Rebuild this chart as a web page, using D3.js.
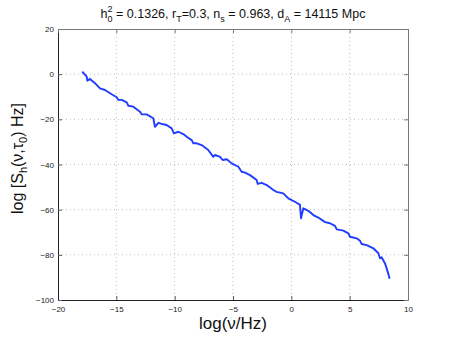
<!DOCTYPE html>
<html>
<head>
<meta charset="utf-8">
<script src="https://cdn.jsdelivr.net/npm/d3@7"></script>
<style>
  body { margin: 0; background: #fff; }
  svg { display: block; font-family: "Liberation Sans", Arial, sans-serif; }
</style>
</head>
<body>
<svg id="chart" width="451" height="338"></svg>
<script>
// values
const logNu = [-17.92, -17.54, -17.49, -17.26, -16.83, -16.4, -15.97, -15.4, -14.97, -14.83, -14.54, -14.11, -13.97, -13.54,
  -12.97, -12.83, -12.4, -11.83, -11.69, -11.4, -10.97, -10.69, -10.26, -10.06, -9.69, -9.26, -8.97, -8.54, -8.4, -8.11,
  -7.69, -7.12, -6.69, -6.54, -6.11, -5.89, -5.54, -5.11, -4.54, -4.26, -3.97, -3.54, -2.97, -2.88, -2.54, -2.11, -1.54,
  -1.26, -0.69, -0.26, 0.31, 0.74, 0.83, 1.03, 1.46, 1.89, 2.31, 2.89, 3.31, 3.74, 3.89, 4.46, 4.89, 5.03, 5.6, 5.89,
  6.03, 6.46, 7.03, 7.46, 7.6, 7.74, 8.03, 8.17, 8.3, 8.42];
const logS = [1.1, -1.1, -2.9, -2.1, -4.0, -6.3, -7.0, -8.9, -10.2, -11.4, -11.4, -12.5, -14.0, -14.4,
  -16.6, -17.8, -17.8, -19.5, -23.3, -21.6, -22.2, -22.5, -24.0, -26.2, -25.5, -26.5, -27.7, -29.2, -30.6, -30.6,
  -31.4, -33.6, -36.6, -35.8, -36.6, -38.0, -37.7, -39.5, -41.0, -43.2, -43.6, -44.7, -46.9, -48.6, -48.1, -49.1, -51.3,
  -52.1, -52.8, -55.0, -56.5, -57.9, -63.8, -59.4, -60.5, -62.4, -63.5, -65.5, -66.0, -67.2, -68.7, -69.3, -70.5, -72.0, -72.7, -73.8,
  -75.2, -75.7, -77.1, -79.3, -81.5, -81.1, -83.8, -86.0, -88.2, -90.6];
const xTicks = [-20, -15, -10, -5, 0, 5, 10];
const yTicks = [-100, -80, -60, -40, -20, 0, 20];

const svg = d3.select("#chart");
const margin = { top: 29, right: 43, bottom: 38, left: 58 };
const W = 451, H = 338;

const x = d3.scaleLinear().domain([-20, 10]).range([margin.left, W - margin.right]);
const y = d3.scaleLinear().domain([-100, 20]).range([H - margin.bottom, margin.top]);

// grid
svg.append("g").selectAll("line").data(xTicks.slice(1, -1)).join("line")
  .attr("x1", d => x(d)).attr("x2", d => x(d))
  .attr("y1", y(20)).attr("y2", y(-100))
  .attr("stroke", "#c0c0c0").attr("stroke-width", 1).attr("stroke-dasharray", "1,3");
svg.append("g").selectAll("line").data(yTicks.slice(1, -1)).join("line")
  .attr("y1", d => y(d)).attr("y2", d => y(d))
  .attr("x1", x(-20)).attr("x2", x(10))
  .attr("stroke", "#c0c0c0").attr("stroke-width", 1).attr("stroke-dasharray", "1,3");

// the curve
const line = d3.line().x((d, i) => x(logNu[i])).y(d => y(d));
svg.append("path")
  .datum(logS)
  .attr("d", line)
  .attr("fill", "none")
  .attr("stroke", "#1f3cff")
  .attr("stroke-width", 1.9)
  .attr("stroke-linejoin", "round");

// axes (ticks inside, on all four sides)
const tickFont = g => g.selectAll("text").style("font-size", "8px").attr("fill", "#222");
svg.append("g")
  .attr("transform", `translate(0,${y(-100)})`)
  .call(d3.axisBottom(x).tickValues(xTicks).tickSizeInner(-4).tickSizeOuter(0).tickPadding(6).tickFormat(d3.format("d")))
  .call(tickFont)
  .call(g => g.select(".domain").attr("stroke", "#222"))
  .call(g => g.selectAll(".tick line").attr("stroke", "#555"));
svg.append("g")
  .attr("transform", `translate(${x(-20)},0)`)
  .call(d3.axisLeft(y).tickValues(yTicks).tickSizeInner(-4).tickSizeOuter(0).tickPadding(4).tickFormat(d3.format("d")))
  .call(tickFont)
  .call(g => g.select(".domain").attr("stroke", "#222"))
  .call(g => g.selectAll(".tick line").attr("stroke", "#555"));
svg.append("g")
  .attr("transform", `translate(0,${y(20)})`)
  .call(d3.axisTop(x).tickValues(xTicks).tickSizeInner(-4).tickSizeOuter(0).tickFormat(""))
  .call(g => g.select(".domain").attr("stroke", "#777"))
  .call(g => g.selectAll(".tick line").attr("stroke", "#777"));
svg.append("g")
  .attr("transform", `translate(${x(10)},0)`)
  .call(d3.axisRight(y).tickValues(yTicks).tickSizeInner(-4).tickSizeOuter(0).tickFormat(""))
  .call(g => g.select(".domain").attr("stroke", "#777"))
  .call(g => g.selectAll(".tick line").attr("stroke", "#777"));

// title
const title = svg.append("text")
  .attr("x", (x(-20) + x(10)) / 2).attr("y", 18)
  .attr("text-anchor", "middle")
  .style("font-size", "12.5px").attr("fill", "#111");
title.append("tspan").text("h");
title.append("tspan").attr("dy", -6).style("font-size", "9px").text("2");
title.append("tspan").attr("dx", -5).attr("dy", 10).style("font-size", "9px").text("0");
title.append("tspan").attr("dy", -4).text(" = 0.1326, r");
title.append("tspan").attr("dy", 4).style("font-size", "9px").text("T");
title.append("tspan").attr("dy", -4).text("=0.3, n");
title.append("tspan").attr("dy", 4).style("font-size", "9px").text("s");
title.append("tspan").attr("dy", -4).text(" = 0.963, d");
title.append("tspan").attr("dy", 4).style("font-size", "9px").text("A");
title.append("tspan").attr("dy", -4).text(" = 14115 Mpc");

// x label
svg.append("text")
  .attr("x", (x(-20) + x(10)) / 2).attr("y", 329)
  .attr("text-anchor", "middle")
  .style("font-size", "17px").attr("fill", "#111")
  .text("log(ν/Hz)");

// y label
const yl = svg.append("text")
  .attr("transform", `translate(23,${(y(20) + y(-100)) / 2 - 6}) rotate(-90)`)
  .attr("text-anchor", "middle")
  .style("font-size", "16px").attr("fill", "#111");
yl.append("tspan").text("log [S");
yl.append("tspan").attr("dy", 4).style("font-size", "11px").text("h");
yl.append("tspan").attr("dy", -4).text("(ν,τ");
yl.append("tspan").attr("dy", 4).style("font-size", "11px").text("0");
yl.append("tspan").attr("dy", -4).text(") Hz]");
</script>
</body>
</html>
